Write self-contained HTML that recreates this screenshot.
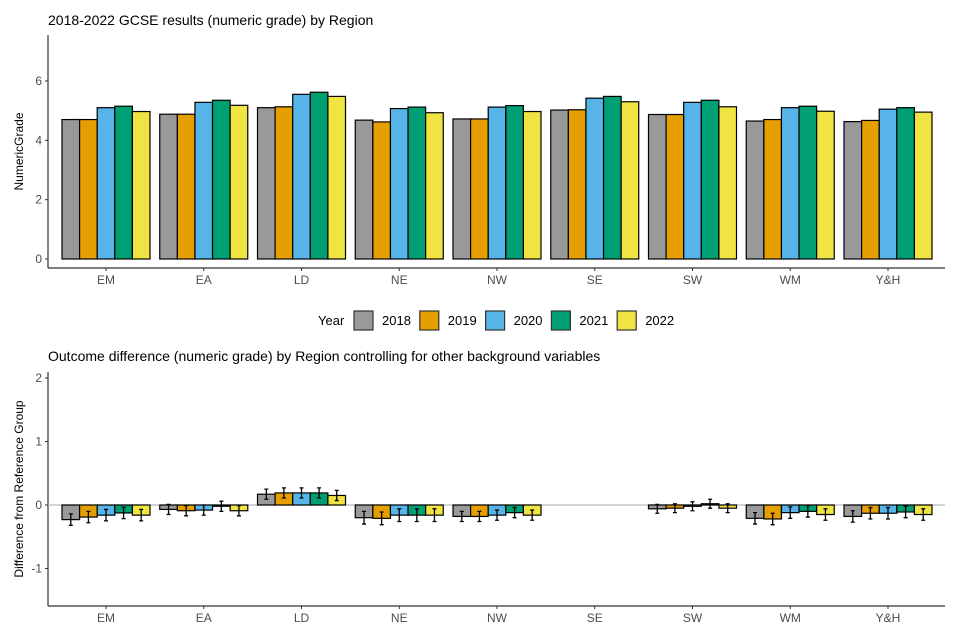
<!DOCTYPE html>
<html><head><meta charset="utf-8"><style>
html,body{margin:0;padding:0;background:#fff;}
svg{display:block;font-family:"Liberation Sans",Arial,sans-serif;}
</style></head><body>
<svg id="chart" width="960" height="640" viewBox="0 0 960 640"></svg>
<script>
const regions = ["EM","EA","LD","NE","NW","SE","SW","WM","Y&H"];
const years = ["2018","2019","2020","2021","2022"];
const colors = ["#999999","#E69F00","#56B4E9","#009E73","#F0E442"];
const grade2018 = [4.70,4.88,5.10,4.68,4.72,5.02,4.87,4.65,4.63];
const grade2019 = [4.70,4.88,5.13,4.62,4.72,5.03,4.87,4.70,4.67];
const grade2020 = [5.10,5.28,5.55,5.07,5.12,5.42,5.28,5.10,5.05];
const grade2021 = [5.15,5.35,5.62,5.12,5.17,5.48,5.35,5.15,5.10];
const grade2022 = [4.97,5.18,5.48,4.93,4.97,5.30,5.13,4.98,4.95];
const diff2018 = [-0.23,-0.07,0.17,-0.20,-0.18,null,-0.06,-0.21,-0.18];
const diff2019 = [-0.19,-0.09,0.19,-0.21,-0.18,null,-0.05,-0.22,-0.13];
const diff2020 = [-0.16,-0.08,0.19,-0.16,-0.16,null,-0.02,-0.12,-0.13];
const diff2021 = [-0.125,-0.02,0.19,-0.16,-0.12,null,0.02,-0.10,-0.11];
const diff2022 = [-0.16,-0.09,0.15,-0.16,-0.16,null,-0.05,-0.15,-0.15];
const errHalf = [0.09,0.08,0.08,0.10,0.08,0,0.07,0.09,0.09];
const topTicks = [0,2,4,6];
const botTicks = [-1,0,1,2];

const grades=[grade2018,grade2019,grade2020,grade2021,grade2022];
const diffs=[diff2018,diff2019,diff2020,diff2021,diff2022];
const svg=document.getElementById('chart');
const NS='http://www.w3.org/2000/svg';
function mk(tag,attrs,parent){const e=document.createElementNS(NS,tag);for(const k in attrs)e.setAttribute(k,attrs[k]);(parent||svg).appendChild(e);return e;}
const x0=48,x1=945,groupW=88,barW=groupW/5;
const first=106,last=888,step=(last-first)/(regions.length-1);
const cx=i=>first+step*i;
const yTop=v=>259-v*29.67;
const yBot=v=>505-v*63.5;

let t=mk('text',{x:48,y:25,'font-size':14,fill:'#000'});t.textContent='2018-2022 GCSE results (numeric grade) by Region';

t=mk('text',{x:48,y:361,'font-size':14,fill:'#000'});t.textContent='Outcome difference (numeric grade) by Region controlling for other background variables';


function axes(yf,ticks,top,bottom,title,nm){
  const g=mk('g',{});
  
  mk('line',{x1:x0,y1:top,x2:x0,y2:bottom,stroke:'#333','stroke-width':1.2},g);
  mk('line',{x1:x0,y1:bottom,x2:x1,y2:bottom,stroke:'#333','stroke-width':1.2},g);
  ticks.forEach(v=>{mk('line',{x1:x0-3,y1:yf(v),x2:x0,y2:yf(v),stroke:'#333'},g);
    const l=mk('text',{x:x0-6,y:yf(v)+4,'font-size':12,fill:'#4d4d4d','text-anchor':'end'},g);l.textContent=v;});
  regions.forEach((r,i)=>{mk('line',{x1:cx(i),y1:bottom,x2:cx(i),y2:bottom+3,stroke:'#333'},g);
    const l=mk('text',{x:cx(i),y:bottom+16,'font-size':12,fill:'#4d4d4d','text-anchor':'middle'},g);l.textContent=r;});
  const yt=mk('text',{x:0,y:0,'font-size':12,fill:'#000','text-anchor':'middle',transform:`translate(23,${(top+bottom)/2}) rotate(-90)`},g);yt.textContent=title;
}
axes(yTop,topTicks,35,268,'NumericGrade','top');
axes(yBot,botTicks,372,606,'Difference from Reference Group','bottom');
mk('line',{x1:x0,y1:yBot(0),x2:x1,y2:yBot(0),stroke:'#bbb','stroke-width':1.2});

grades.forEach((arr,s)=>arr.forEach((v,i)=>{
  const x=cx(i)-groupW/2+s*barW;
  const r=mk('rect',{x:x,y:yTop(v),width:barW,height:yTop(0)-yTop(v),fill:colors[s],stroke:'#000','stroke-width':1.2});
  
  
}));
diffs.forEach((arr,s)=>arr.forEach((v,i)=>{
  if(v===null)return;
  const x=cx(i)-groupW/2+s*barW;
  const y=Math.min(yBot(v),yBot(0)),h=Math.abs(yBot(v)-yBot(0));
  const r=mk('rect',{x:x,y:y,width:barW,height:h,fill:colors[s],stroke:'#000','stroke-width':1.2});
  
  
  const e=errHalf[i],mx=x+barW/2;
  const eb=mk('path',{d:`M${mx-2},${yBot(v+e)}H${mx+2}M${mx},${yBot(v+e)}V${yBot(v-e)}M${mx-2},${yBot(v-e)}H${mx+2}`,stroke:'#000','stroke-width':1.3,fill:'none'});
  
  
}));

const lg=mk('g',{});

t=mk('text',{x:318,y:325,'font-size':13,fill:'#000'},lg);t.textContent='Year';
years.forEach((y,s)=>{
  const bx=354+s*65.8;
  const r=mk('rect',{x:bx,y:311,width:19,height:19,fill:colors[s],stroke:'#333','stroke-width':1.2},lg);
  
  const l=mk('text',{x:bx+28,y:325,'font-size':13,fill:'#000'},lg);l.textContent=y;
});
</script>
</body></html>
